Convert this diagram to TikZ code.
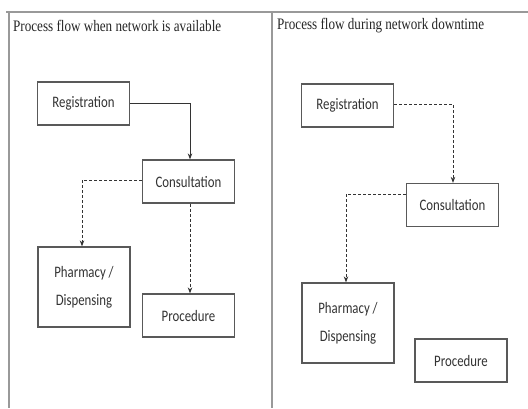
\documentclass[tikz,border=0pt]{standalone}
\usepackage{fontspec}
\setmainfont{Liberation Serif}
\newfontfamily\titlefont[FakeStretch=0.82]{Liberation Serif}
\newfontfamily\boxfont[FakeStretch=0.8]{Carlito}
\usetikzlibrary{arrows.meta}
\begin{document}
\begin{tikzpicture}[x=1pt,y=-1pt,
  frame/.style={draw=gray!80, line width=1.6pt},
  procbox/.style={draw=black!65, line width=1.3pt, fill=white, minimum width=92pt, minimum height=43pt, inner sep=2pt, font=\boxfont\fontsize{16}{28}\selectfont, text=black!80, align=center},
  titletext/.style={anchor=west, inner sep=0pt, font=\titlefont\fontsize{16}{18}\selectfont, text=black!85},
  solidarrow/.style={draw=black!80, line width=0.8pt, -{Stealth[length=6pt,width=4.5pt]}},
  dasharrow/.style={draw=black!80, line width=0.8pt, dash pattern=on 3pt off 2pt, -{Stealth[length=6pt,width=4.5pt]}}]
\useasboundingbox (0,0) rectangle (528,408);
\fill[white] (0,0) rectangle (528,408);
% frame
\coordinate (tl) at (6,12);
\coordinate (tr) at (528,12);
\coordinate (lt) at (9,12);
\coordinate (lb) at (9,408);
\coordinate (mt) at (272,12);
\coordinate (mb) at (272,408);
\draw[frame] (tl) -- (tr);
\draw[frame] (lt) -- (lb);
\draw[frame] (mt) -- (mb);
% titles
\node[titletext] (t1) at (13,26) {Process flow when network is available};
\node[titletext] (t2) at (277,26) {Process flow during network downtime};
% left panel
\node[procbox] (reg1) at (83.5,103.5) {Registration};
\node[procbox] (con1) at (188.5,181.5) {Consultation};
\node[procbox, minimum height=80pt] (pha1) at (84,287) {Pharmacy /\\Dispensing};
\node[procbox] (pro1) at (188.5,315.5) {Procedure};
\draw[solidarrow] (reg1.east) -| ([xshift=1.5pt]con1.north);
\draw[dasharrow] ([yshift=1.5pt]con1.west) -| ([xshift=-2pt]pha1.north);
\draw[dasharrow] ([xshift=1.5pt]con1.south) -- ([xshift=1.5pt]pro1.north);
% right panel
\node[procbox] (reg2) at (347.5,105.5) {Registration};
\node[procbox] (con2) at (452.5,205) {Consultation};
\node[procbox, minimum height=80pt] (pha2) at (348,323) {Pharmacy /\\Dispensing};
\node[procbox] (pro2) at (461,360.5) {Procedure};
\draw[dasharrow] ([yshift=1.5pt]reg2.east) -| ([xshift=0.5pt]con2.north);
\draw[dasharrow] ([yshift=11pt]con2.west) -| ([xshift=-2pt]pha2.north);
\end{tikzpicture}
\end{document}
